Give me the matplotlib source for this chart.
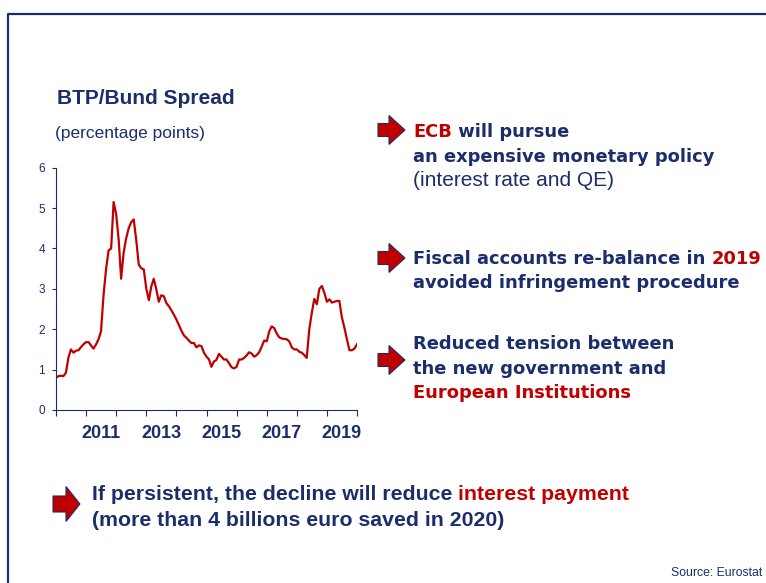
import numpy as np
import pandas as pd
import matplotlib
matplotlib.use('Agg')
import matplotlib.pyplot as plt
import matplotlib.dates as mdates
from matplotlib.patches import Polygon

W, H = 766, 583
NAVY = '#1b2e6b'
RED = '#c00000'
SANS = ['Liberation Sans']
WIDE = ['DejaVu Sans']

# monthly BTP/Bund spread, Jan 2010 - Jan 2020 (percentage points)
spread = [0.80, 0.84, 0.85, 0.84, 0.92, 1.30, 1.50, 1.42, 1.47, 1.48, 1.56, 1.63,
          1.68, 1.68, 1.60, 1.52, 1.62, 1.75, 1.95, 2.85, 3.50, 3.95, 4.00, 5.15,
          4.85, 4.20, 3.25, 3.90, 4.25, 4.50, 4.65, 4.72, 4.20, 3.60, 3.51, 3.48,
          3.00, 2.72, 3.05, 3.25, 3.00, 2.68, 2.84, 2.82, 2.65, 2.57, 2.47, 2.36,
          2.24, 2.10, 1.97, 1.85, 1.79, 1.72, 1.66, 1.66, 1.55, 1.60, 1.58, 1.42,
          1.32, 1.25, 1.07, 1.20, 1.24, 1.39, 1.32, 1.25, 1.25, 1.16, 1.06, 1.03,
          1.07, 1.25, 1.25, 1.29, 1.35, 1.43, 1.40, 1.32, 1.36, 1.43, 1.57, 1.72,
          1.70, 1.95, 2.07, 2.03, 1.90, 1.80, 1.77, 1.76, 1.75, 1.70, 1.55, 1.50,
          1.50, 1.44, 1.42, 1.36, 1.29, 2.00, 2.40, 2.75, 2.62, 3.00, 3.07, 2.90,
          2.68, 2.74, 2.66, 2.68, 2.70, 2.70, 2.30, 2.04, 1.75, 1.48, 1.48, 1.52,
          1.63]
dates = pd.date_range('2010-01-01', periods=len(spread), freq='MS')
year_labels = ['2011', '2013', '2015', '2017', '2019']
y_ticks = [0, 1, 2, 3, 4, 5, 6]

fig = plt.figure(figsize=(W / 100, H / 100), dpi=100)


def fx(x):
    return x / W


def fy(y):
    return 1 - y / H


# slide frame
fig.add_artist(plt.Line2D([fx(8), fx(8), fx(770)], [fy(590), fy(13.5), fy(13.5)],
                          color=NAVY, lw=1.6, transform=fig.transFigure))

# chart
ax = fig.add_axes([fx(56), fy(410), fx(357) - fx(56), fy(167.7) - fy(410)])
ax.plot(dates, spread, color=RED, lw=1.6)
ax.set_xlim(pd.Timestamp('2010-01-01'), pd.Timestamp('2020-01-01'))
ax.set_ylim(0, 6)
ax.set_yticks(y_ticks)
for s in ['top', 'right']:
    ax.spines[s].set_visible(False)
for s in ['left', 'bottom']:
    ax.spines[s].set_color(NAVY)
    ax.spines[s].set_linewidth(0.8)
ax.xaxis.set_major_locator(mdates.YearLocator())
ax.xaxis.set_major_formatter(plt.NullFormatter())
mid = [pd.Timestamp(f'{y}-07-01') for y in year_labels]
ax.set_xticks(mid, minor=True)
ax.set_xticklabels(year_labels, minor=True, fontsize=13, fontweight='bold',
                   color=NAVY, family=SANS)
ax.tick_params(axis='x', which='major', length=4, color=NAVY, width=0.8)
ax.tick_params(axis='x', which='minor', length=0, pad=11)
ax.tick_params(axis='y', length=3, color=NAVY, width=0.8, labelsize=8.5,
               labelcolor=NAVY, pad=5)
for t in ax.get_yticklabels():
    t.set_family(SANS)

fig.text(fx(57), fy(104.3), 'BTP/Bund Spread', fontsize=15, fontweight='bold',
         color=NAVY, family=SANS, va='baseline')
fig.text(fx(55), fy(138), '(percentage points)', fontsize=12.5, color=NAVY,
         family=SANS, va='baseline')
fig.text(fx(762), fy(575.5), 'Source: Eurostat', fontsize=8.8, color=NAVY,
         family=SANS, va='baseline', ha='right')

renderer = fig.canvas.get_renderer()


def runs(x, y, parts, size, family):
    # lay coloured pieces of one line side by side
    for s, c, w in parts:
        t = fig.text(fx(x), fy(y), s, color=c, fontsize=size, fontweight=w,
                     family=family, va='baseline')
        x += t.get_window_extent(renderer).width


def arrow(x0, cy, length=27, shaft=13, head=29, head_len=16):
    xb = x0 + length - head_len
    pts = [(x0, cy - shaft / 2), (xb, cy - shaft / 2), (xb, cy - head / 2),
           (x0 + length, cy), (xb, cy + head / 2), (xb, cy + shaft / 2),
           (x0, cy + shaft / 2)]
    fig.add_artist(Polygon([(fx(a), fy(b)) for a, b in pts], closed=True,
                           facecolor=RED, edgecolor=NAVY, lw=0.8,
                           transform=fig.transFigure))


B = 'bold'
N = 'normal'
SZ = 12.85

arrow(378, 130)
runs(413, 137, [('ECB', RED, B), (' will pursue', NAVY, B)], SZ, WIDE)
runs(413, 161.5, [('an expensive monetary policy', NAVY, B)], SZ, WIDE)
runs(413, 186, [('(interest rate and QE)', NAVY, N)], 15, SANS)

arrow(378, 258)
runs(413, 264, [('Fiscal accounts re-balance in ', NAVY, B), ('2019', RED, B)], SZ, WIDE)
runs(413, 288, [('avoided infringement procedure', NAVY, B)], SZ, WIDE)

arrow(378, 360)
runs(413, 349, [('Reduced tension between', NAVY, B)], SZ, WIDE)
runs(413, 374, [('the new government and', NAVY, B)], SZ, WIDE)
runs(413, 398.5, [('European Institutions', RED, B)], SZ, WIDE)

arrow(53, 504, length=27, shaft=16, head=35, head_len=14)
runs(92, 500, [('If persistent, the decline will reduce ', NAVY, B),
               ('interest payment', RED, B)], 15.3, SANS)
runs(92, 526, [('(more than 4 billions euro saved in 2020)', NAVY, B)], 15.3, SANS)

fig.savefig('out.png', dpi=100)
